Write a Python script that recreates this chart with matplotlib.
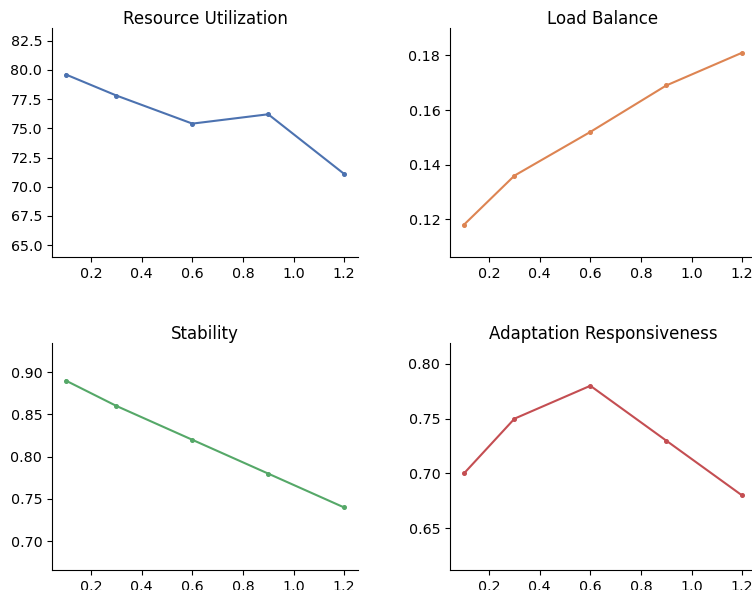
import matplotlib
matplotlib.use("Agg")
import matplotlib.pyplot as plt

# Parameter sweep values and the four metrics measured at each
x_values = [0.1, 0.3, 0.6, 0.9, 1.2]
resource_utilization = [79.6, 77.8, 75.4, 76.2, 71.1]
load_balance = [0.118, 0.136, 0.152, 0.169, 0.181]
stability = [0.89, 0.86, 0.82, 0.78, 0.74]
adaptation_responsiveness = [0.70, 0.75, 0.78, 0.73, 0.68]

titles = ["Resource Utilization", "Load Balance", "Stability", "Adaptation Responsiveness"]
series = [resource_utilization, load_balance, stability, adaptation_responsiveness]
colors = ["#4C72B0", "#DD8452", "#55A868", "#C44E52"]

W, H = 752, 590
fig = plt.figure(figsize=(W / 100, H / 100), dpi=100)

# axes rectangles in pixels: (left, top, right, bottom)
boxes = [
    (52, 28, 358, 257),
    (450, 28, 756, 257),
    (52, 343, 358, 570),
    (450, 343, 756, 570),
]

for (l, t, r, b), title, ys, c in zip(boxes, titles, series, colors):
    ax = fig.add_axes([l / W, 1 - b / H, (r - l) / W, (b - t) / H])
    ax.plot(x_values, ys, color=c, lw=1.5, marker="o", markersize=2.6)
    ax.set_ylim(min(ys) * 0.9, max(ys) * 1.05)
    ax.set_title(title, fontsize=12, pad=2)
    ax.spines["top"].set_visible(False)
    ax.spines["right"].set_visible(False)
    ax.tick_params(labelsize=10.3, length=3.5, width=0.8)
    ax.set_xticks([0.2, 0.4, 0.6, 0.8, 1.0, 1.2])

fig.savefig("out.png", dpi=100)
